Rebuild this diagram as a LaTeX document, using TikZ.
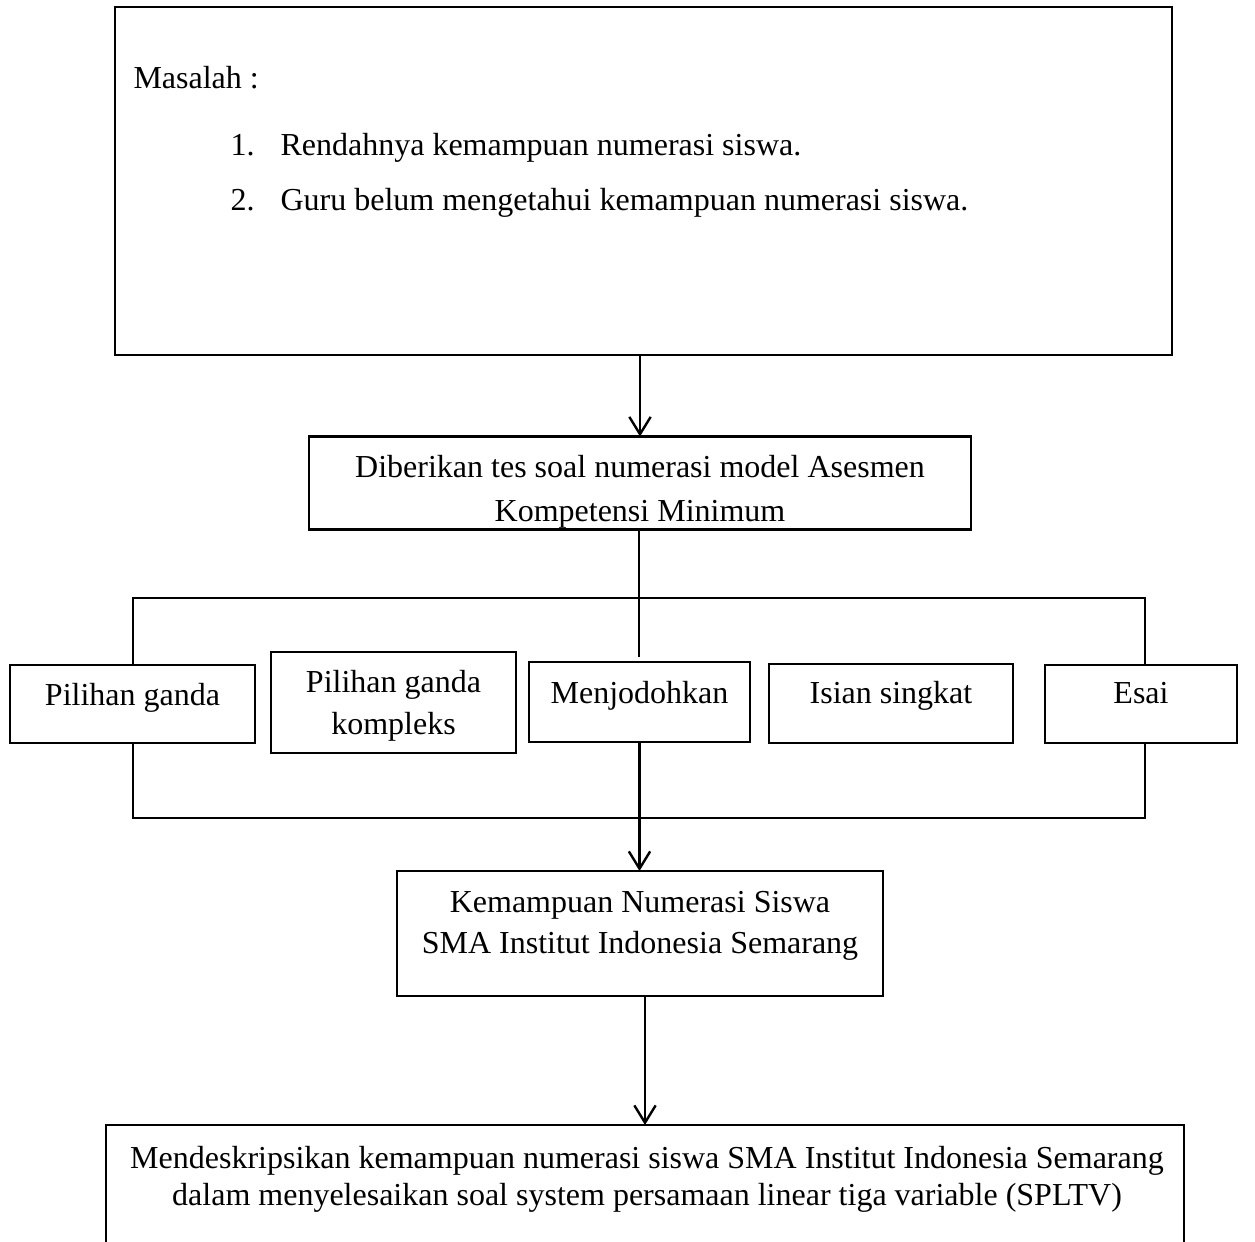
\documentclass[tikz,border=0pt]{standalone}
\usepackage{fontspec}
\setmainfont{Liberation Serif}
\usetikzlibrary{arrows.meta}
\begin{document}
\begin{tikzpicture}[x=0.375pt,y=-0.375pt,
  boxst/.style={draw,line width=1.1pt,inner sep=0pt,outer sep=0pt},
  txt/.style={anchor=base,inner sep=0pt,font=\fontsize{12}{14}\selectfont},
  thin/.style={line width=0.5pt},
  arr/.style={line width=0.9pt,-{Straight Barb[length=6.5pt,width=8pt,line width=0.9pt]}}]
\useasboundingbox (0,0) rectangle (1255,1242);
\clip (0,0) rectangle (1255,1242);
% boxes
\node[boxst,minimum width=1057*0.375pt,minimum height=348*0.375pt] (top) at (643.5,181) {};
\node[boxst,minimum width=662*0.375pt,minimum height=93*0.375pt] (test) at (640,483) {};
\node[boxst,minimum width=245*0.375pt,minimum height=78*0.375pt] (pg) at (132.5,704) {};
\node[boxst,minimum width=245*0.375pt,minimum height=101*0.375pt] (pgk) at (393.5,702.5) {};
\node[boxst,minimum width=221*0.375pt,minimum height=80*0.375pt] (menj) at (639.5,702) {};
\node[boxst,minimum width=244*0.375pt,minimum height=79*0.375pt] (isian) at (891,703.5) {};
\node[boxst,minimum width=192*0.375pt,minimum height=78*0.375pt] (esai) at (1141,704) {};
\node[boxst,minimum width=486*0.375pt,minimum height=125*0.375pt] (kem) at (640,933.5) {};
\node[boxst,minimum width=1078*0.375pt,minimum height=140*0.375pt] (desk) at (645,1195) {};
% texts
\node[txt,anchor=base west] (tmas) at (133,88) {Masalah :};
\node[txt,anchor=base west] (tn1) at (230,155) {1.};
\node[txt,anchor=base west] (ti1) at (280,155) {Rendahnya kemampuan numerasi siswa.};
\node[txt,anchor=base west] (tn2) at (230,210) {2.};
\node[txt,anchor=base west] (ti2) at (280,210) {Guru belum mengetahui kemampuan numerasi siswa.};
\begin{scope}
\clip (test.north west) rectangle (test.south east);
\node[txt] (tt1) at (640,477) {Diberikan tes soal numerasi model Asesmen};
\node[txt] (tt2) at (640,521) {Kompetensi Minimum};
\end{scope}
\draw[boxst] (test.north west) rectangle (test.south east);
\node[txt] (tpg) at (132.5,705) {Pilihan ganda};
\node[txt] (tpgk1) at (393.5,692) {Pilihan ganda};
\node[txt] (tpgk2) at (393.5,734) {kompleks};
\node[txt] (tmenj) at (639.5,703) {Menjodohkan};
\node[txt] (tisian) at (891,703) {Isian singkat};
\node[txt] (tesai) at (1141,703) {Esai};
\node[txt] (tk1) at (640,912) {Kemampuan Numerasi Siswa};
\node[txt] (tk2) at (640,953) {SMA Institut Indonesia Semarang};
\node[txt] (td1) at (647,1168) {Mendeskripsikan kemampuan numerasi siswa SMA Institut Indonesia Semarang};
\node[txt] (td2) at (647,1205) {dalam menyelesaikan soal system persamaan linear tiga variable (SPLTV)};
% connectors
\draw[arr] (test.north |- top.south) -- (test.north);
\coordinate (cend) at (639,657);
\draw[thin] (test.south -| cend) -- (cend);
\coordinate (bl) at (133,598);
\coordinate (br) at (1145,598);
\coordinate (bbl) at (133,818);
\coordinate (bbr) at (1145,818);
\draw[thin] (pg.north -| bl) -- (bl) -- (br) -- (esai.north -| br);
\draw[thin] (pg.south -| bbl) -- (bbl) -- (bbr) -- (esai.south -| bbr);
\draw[arr] (menj.south) -- (menj.south |- kem.north);
\draw[arr] (kem.south -| desk.north) -- (desk.north);
\end{tikzpicture}
\end{document}
